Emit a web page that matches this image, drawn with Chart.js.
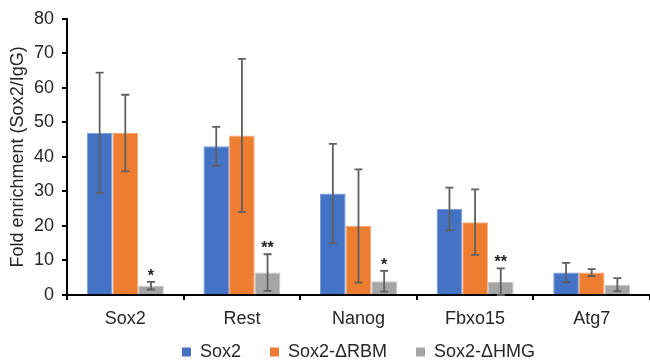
<!DOCTYPE html>
<html>
<head>
<meta charset="utf-8">
<script src="https://cdn.jsdelivr.net/npm/chart.js@4/dist/chart.umd.min.js"></script>
<style>
  html, body { margin: 0; padding: 0; background: #fff; }
  #wrap { position: relative; width: 650px; height: 363px; }
</style>
</head>
<body>
<div id="wrap"><canvas id="chart" width="650" height="363"></canvas></div>
<script>
// Target genes on the x axis
const genes = ['Sox2', 'Rest', 'Nanog', 'Fbxo15', 'Atg7'];

// Mean fold enrichment (Sox2/IgG) per construct
const sox2Wt   = [47.0, 43.1, 29.4, 24.9, 6.5];
const sox2Drbm = [46.9, 46.2, 20.0, 21.1, 6.5];
const sox2Dhmg = [2.7, 6.5, 4.0, 3.8, 3.0];

// Error (± deviation) per construct
const sox2WtErr   = [17.4, 5.6, 14.4, 6.2, 2.8];
const sox2DrbmErr = [11.1, 22.2, 16.4, 9.5, 1.0];
const sox2DhmgErr = [1.1, 5.3, 3.0, 3.9, 1.9];

// Significance marks above the ΔHMG bars
const dhmgSignif = ['*', '**', '*', '**', ''];

// Axis ticks
const yTicks = [0, 10, 20, 30, 40, 50, 60, 70, 80];

const FONT = "'Liberation Sans', Arial, sans-serif";

const errorBars = {
  id: 'errorBars',
  afterDatasetsDraw(chart) {
    const ctx = chart.ctx;
    const y = chart.scales.y;
    ctx.save();
    chart.data.datasets.forEach((ds, i) => {
      const meta = chart.getDatasetMeta(i);
      meta.data.forEach((bar, j) => {
        const v = ds.data[j], e = ds.errors[j];
        const top = y.getPixelForValue(v + e);
        const bot = y.getPixelForValue(Math.max(v - e, 0));
        ctx.strokeStyle = '#5f5f5f';
        ctx.lineWidth = 1.8;
        ctx.beginPath();
        ctx.moveTo(bar.x, top); ctx.lineTo(bar.x, bot);
        ctx.moveTo(bar.x - 4, top); ctx.lineTo(bar.x + 4, top);
        ctx.moveTo(bar.x - 4, bot); ctx.lineTo(bar.x + 4, bot);
        ctx.stroke();
        const mark = ds.marks && ds.marks[j];
        if (mark) {
          ctx.fillStyle = '#222';
          ctx.font = 'bold 16px ' + FONT;
          ctx.textAlign = 'center';
          ctx.textBaseline = 'alphabetic';
          ctx.fillText(mark, bar.x, top - 1);
        }
      });
    });
    ctx.restore();
  }
};

// Fixed legend band height so the plot area keeps its room
const legendHeight = {
  id: 'legendHeight',
  beforeInit(chart) {
    const fit = chart.legend.fit;
    chart.legend.fit = function () {
      fit.call(this);
      this.height = 49;
    };
  }
};

new Chart(document.getElementById('chart'), {
  type: 'bar',
  data: {
    labels: genes,
    datasets: [
      { label: 'Sox2', data: sox2Wt, errors: sox2WtErr, backgroundColor: '#4472C4', borderColor: '#7b9bd6', borderWidth: 1 },
      { label: 'Sox2-\u0394RBM', data: sox2Drbm, errors: sox2DrbmErr, backgroundColor: '#ED7D31', borderColor: '#f3a676', borderWidth: 1 },
      { label: 'Sox2-\u0394HMG', data: sox2Dhmg, errors: sox2DhmgErr, marks: dhmgSignif, backgroundColor: '#A5A5A5', borderColor: '#c4c4c4', borderWidth: 1 }
    ]
  },
  options: {
    responsive: false,
    animation: false,
    layout: { padding: { top: 15, right: 0, bottom: 0, left: 0 } },
    datasets: { bar: { categoryPercentage: 0.66, barPercentage: 1.0 } },
    plugins: {
      tooltip: { enabled: false },
      legend: {
        position: 'bottom',
        fullSize: false,
        labels: {
          boxWidth: 9, boxHeight: 9, padding: 29,
          color: '#262626',
          font: { family: FONT, size: 18 },
          generateLabels(chart) {
            return chart.data.datasets.map((ds, i) => ({
              text: ds.label, fillStyle: ds.backgroundColor, strokeStyle: ds.backgroundColor,
              lineWidth: 0, hidden: false, datasetIndex: i, fontColor: '#262626'
            }));
          }
        }
      }
    },
    scales: {
      x: {
        afterFit(s) { s.height = 19; s._computeLabelArea = () => undefined; },
        grid: { display: true, drawOnChartArea: false, drawTicks: true, tickLength: 5, color: '#000', lineWidth: 2, offset: true },
        border: { display: true, color: '#000', width: 2 },
        ticks: { color: '#262626', font: { family: FONT, size: 18 }, padding: 8, maxRotation: 0 }
      },
      y: {
        min: 0, max: 80,
        afterFit(s) { s.width = 67; },
        afterBuildTicks(s) { s.ticks = yTicks.map(v => ({ value: v })); },
        grid: { display: true, drawOnChartArea: false, drawTicks: true, tickLength: 5, color: '#000', lineWidth: 2 },
        border: { display: true, color: '#000', width: 2 },
        ticks: { color: '#262626', font: { family: FONT, size: 18 }, padding: 8 },
        title: { display: true, text: 'Fold enrichment (Sox2/IgG)', color: '#262626', font: { family: FONT, size: 18 }, padding: { top: 7, bottom: 0 } }
      }
    }
  },
  plugins: [errorBars, legendHeight]
});
</script>
</body>
</html>
